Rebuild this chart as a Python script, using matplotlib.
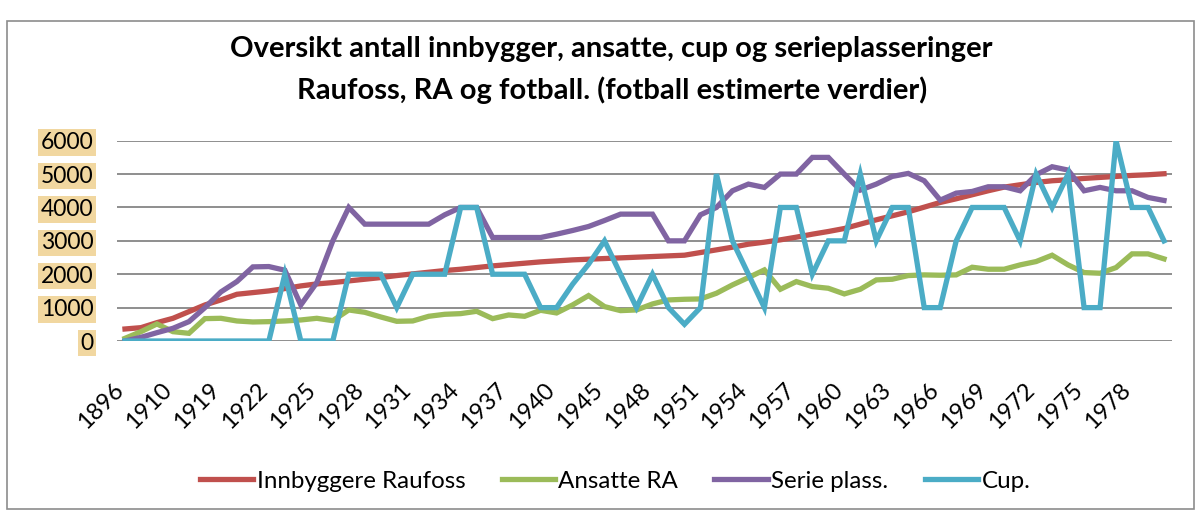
# innbyggere / ansatte / fotball - linjediagram
import matplotlib.pyplot as plt
import matplotlib.transforms as mtransforms
from matplotlib.patches import Rectangle

plt.rcParams['font.family'] = ['Lato', 'DejaVu Sans']

years = (['1896', '1900', '1905', '1910', '1913', '1916']
         + [str(y) for y in range(1919, 1941)]
         + ['1941', '1942']
         + [str(y) for y in range(1945, 1981)])

innbyggere = [360, 400, 550, 680, 880, 1080, 1230, 1400, 1450, 1500,
              1570, 1650, 1710, 1750, 1800, 1850, 1900, 1960, 2010, 2060,
              2110, 2150, 2200, 2250, 2290, 2330, 2370, 2400, 2430, 2450,
              2470, 2490, 2510, 2530, 2550, 2570, 2650, 2730, 2810, 2900,
              2960, 3030, 3110, 3200, 3280, 3370, 3500, 3630, 3750, 3870,
              4010, 4150, 4260, 4380, 4500, 4610, 4680, 4750, 4800, 4830,
              4870, 4900, 4930, 4960, 4980, 5010]
ansatte = [80, 280, 510, 280, 230, 670, 680, 600, 570, 580,
           600, 630, 680, 610, 930, 860, 720, 590, 600, 740,
           800, 820, 890, 670, 780, 740, 920, 840, 1080, 1360,
           1030, 910, 930, 1110, 1230, 1250, 1260, 1430, 1680, 1900,
           2130, 1550, 1780, 1630, 1580, 1410, 1550, 1830, 1850, 1960,
           1980, 1970, 1980, 2210, 2150, 2150, 2280, 2380, 2570, 2280,
           2050, 2030, 2200, 2610, 2610, 2460]
serie = [0, 110, 250, 380, 580, 1000, 1470, 1780, 2220, 2230,
         2120, 1080, 1750, 3000, 4000, 3500, 3500, 3500, 3500, 3500,
         3780, 4000, 4000, 3100, 3100, 3100, 3100, 3200, 3310, 3430,
         3610, 3800, 3800, 3800, 3000, 3000, 3780, 4000, 4500, 4700,
         4600, 5000, 5000, 5500, 5500, 5000, 4520, 4700, 4930, 5020,
         4800, 4220, 4430, 4480, 4620, 4620, 4500, 4980, 5220, 5120,
         4500, 4600, 4500, 4500, 4300, 4210]
cup = [0, 0, 0, 0, 0, 0, 0, 0, 0, 0,
       2000, 0, 0, 0, 2000, 2000, 2000, 1000, 2000, 2000,
       2000, 4000, 4000, 2000, 2000, 2000, 1000, 1000, 1700, 2300,
       3000, 2000, 1000, 2000, 1000, 500, 1000, 5000, 3000, 2000,
       1000, 4000, 4000, 2000, 3000, 3000, 5000, 3000, 4000, 4000,
       1000, 1000, 3000, 4000, 4000, 4000, 3000, 5000, 4000, 5000,
       1000, 1000, 6000, 4000, 4000, 3000]

series = [('Innbyggere Raufoss', innbyggere, '#C0504D'),
          ('Ansatte RA', ansatte, '#9BBB59'),
          ('Serie plass.', serie, '#8064A2'),
          ('Cup.', cup, '#4BACC6')]

W, H = 1204, 513
fig = plt.figure(figsize=(W / 100, H / 100), dpi=100)
ax = fig.add_axes([117 / W, 1 - 341 / H, (1172 - 117) / W, (341 - 140.7) / H])

x = range(len(years))
for name, vals, col in series:
    ax.plot(x, vals, color=col, lw=3.8, label=name, solid_joinstyle='miter')

ax.set_xlim(-0.5, len(years) - 0.5)
ax.set_ylim(0, 6000)
ax.set_yticks(range(0, 6001, 1000))
ax.yaxis.grid(True, color='#868686', lw=1.3)
ax.set_axisbelow(True)
for s in ax.spines.values():
    s.set_visible(False)
ax.tick_params(length=0)

ax.set_yticklabels([str(v) for v in range(0, 6001, 1000)], fontsize=16.5)
ax.tick_params(axis='y', pad=17)
for lab in ax.get_yticklabels():
    lab.set_bbox(dict(boxstyle='square,pad=0.12', fc='#F1D7A0', ec='none'))

ax.set_xticks(range(0, len(years), 3))
ax.set_xticklabels(years[::3], fontsize=17, rotation=45, ha='right',
                   va='center', rotation_mode='anchor')
ax.tick_params(axis='x', pad=33)
shift = mtransforms.ScaledTranslation(-0.05, 0, fig.dpi_scale_trans)
for lab in ax.get_xticklabels():
    lab.set_transform(lab.get_transform() + shift)

fig.text(0.508, 1 - 49 / H, 'Oversikt antall innbygger, ansatte, cup og serieplasseringer',
         ha='center', va='center', fontsize=21, fontweight='bold')
fig.text(0.508, 1 - 90 / H, 'Raufoss, RA og fotball. (fotball estimerte verdier)',
         ha='center', va='center', fontsize=21, fontweight='bold')

fig.legend(loc='center', bbox_to_anchor=(615 / W, 1 - 481 / H), ncol=4,
           frameon=False, fontsize=17.4, handlelength=2.2, handletextpad=0.15,
           columnspacing=1.5)

fig.patches.append(Rectangle((7 / W, 1 - 509 / H), (1194 - 7) / W, (509 - 21) / H,
                             transform=fig.transFigure, fill=False,
                             ec='#8c8c8c', lw=1.2))

fig.savefig('out.png', dpi=100)
